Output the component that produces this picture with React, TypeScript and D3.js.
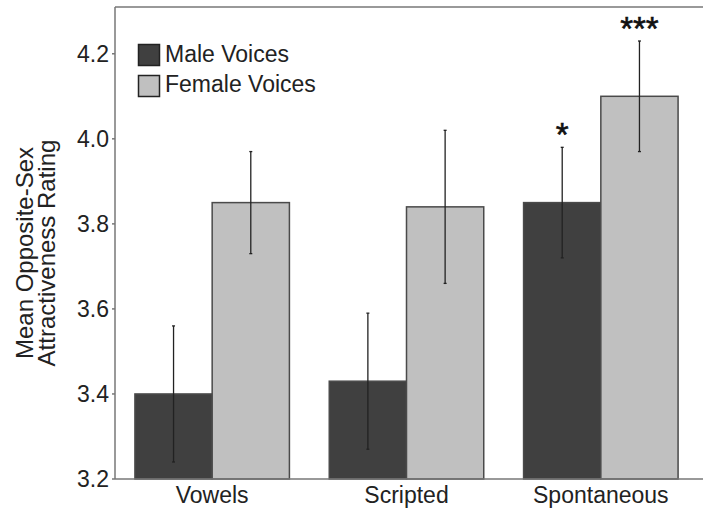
import React from "react";
import * as d3 from "d3";

const categories = ["Vowels", "Scripted", "Spontaneous"];
const series = ["Male Voices", "Female Voices"];
const maleMeans = [3.40, 3.43, 3.85];
const maleLow = [3.24, 3.27, 3.72];
const maleHigh = [3.56, 3.59, 3.98];
const femaleMeans = [3.85, 3.84, 4.10];
const femaleLow = [3.73, 3.66, 3.97];
const femaleHigh = [3.97, 4.02, 4.23];
const maleSig = ["", "", "*"];
const femaleSig = ["", "", "***"];
const yTicks = [3.2, 3.4, 3.6, 3.8, 4.0, 4.2];

const W = 703;
const H = 513;
const FONT = "'Liberation Sans', Arial, sans-serif";
const colors = ["#404040", "#c0c0c0"];

export default function App() {
  const x = d3.scaleBand<string>().domain(categories).range([115, 698]).paddingInner(0.205).paddingOuter(0.1025);
  const sub = d3.scaleBand<string>().domain(series).range([0, x.bandwidth()]);
  const y = d3.scaleLinear().domain([3.2, 4.31]).range([479, 7]);

  const data = [
    { name: series[0], means: maleMeans, lo: maleLow, hi: maleHigh, sig: maleSig, color: colors[0] },
    { name: series[1], means: femaleMeans, lo: femaleLow, hi: femaleHigh, sig: femaleSig, color: colors[1] },
  ];

  const x0 = 115;
  const yBase = y(3.2);
  const yTop = y(4.31);

  return (
    <svg width={W} height={H} style={{ position: "absolute", left: 0, top: 0, background: "#fff" }} fontFamily={FONT}>
      {data.map((s) =>
        categories.map((c, i) => {
          const bx = (x(c) as number) + (sub(s.name) as number);
          const bw = sub.bandwidth();
          const cx = bx + bw / 2;
          return (
            <g key={s.name + c}>
              <rect x={bx} y={y(s.means[i])} width={bw} height={yBase - y(s.means[i])} fill={s.color} stroke="#4a4a4a" strokeWidth={1.5} />
              <line x1={cx} x2={cx} y1={y(s.lo[i])} y2={y(s.hi[i])} stroke="#222" strokeWidth={1.3} />
              <line x1={cx - 1.5} x2={cx + 1.5} y1={y(s.lo[i])} y2={y(s.lo[i])} stroke="#222" strokeWidth={1.3} />
              <line x1={cx - 1.5} x2={cx + 1.5} y1={y(s.hi[i])} y2={y(s.hi[i])} stroke="#222" strokeWidth={1.3} />
              {s.sig[i] && (
                <text x={cx} y={y(s.hi[i]) - 1} textAnchor="middle" fontSize={33} fill="#111" stroke="#111" strokeWidth={0.6}>
                  {s.sig[i]}
                </text>
              )}
            </g>
          );
        })
      )}
      <line x1={x0} x2={W} y1={yTop} y2={yTop} stroke="#777" strokeWidth={1.5} />
      <line x1={x0} x2={W} y1={yBase} y2={yBase} stroke="#777" strokeWidth={1.5} />
      <line x1={x0} x2={x0} y1={yTop} y2={yBase} stroke="#777" strokeWidth={1.5} />
      {yTicks.map((t) => (
        <g key={t}>
          <line x1={x0 - 3} x2={x0} y1={y(t)} y2={y(t)} stroke="#777" strokeWidth={1.5} />
          <text x={x0 - 6} y={y(t) + 8} textAnchor="end" fontSize={23} fill="#222">
            {t.toFixed(1)}
          </text>
        </g>
      ))}
      {categories.map((c) => (
        <text key={c} x={(x(c) as number) + x.bandwidth() / 2} y={503} textAnchor="middle" fontSize={23} fill="#222">
          {c}
        </text>
      ))}
      <text transform="translate(33,253) rotate(-90)" textAnchor="middle" fontSize={24} fill="#222">
        Mean Opposite-Sex
      </text>
      <text transform="translate(55,253) rotate(-90)" textAnchor="middle" fontSize={24} fill="#222">
        Attractiveness Rating
      </text>
      {series.map((s, i) => (
        <g key={s}>
          <rect x={138.5} y={44.5 + i * 31} width={21} height={21} fill={colors[i]} stroke="#222" strokeWidth={1.5} />
          <text x={165} y={62 + i * 30} fontSize={23} fill="#222">
            {s}
          </text>
        </g>
      ))}
    </svg>
  );
}
